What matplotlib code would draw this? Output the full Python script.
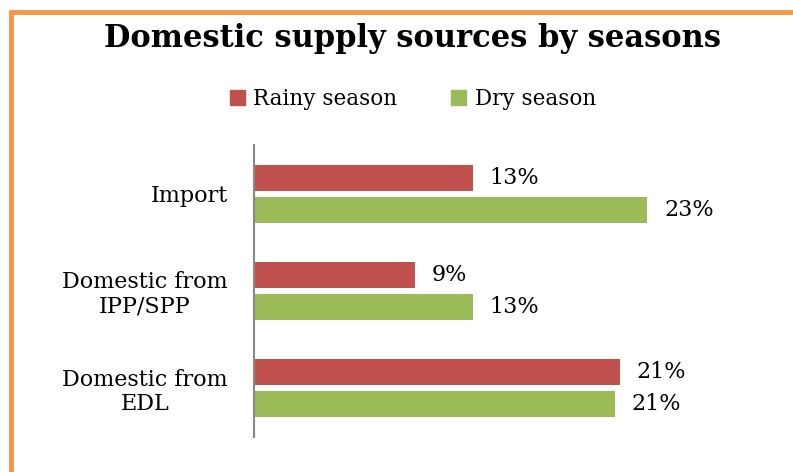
import numpy as np
import matplotlib
matplotlib.use('Agg')
import matplotlib.pyplot as plt
from matplotlib.lines import Line2D
from matplotlib.patches import Patch

###############################################################################

# Data (bottom to top)
categories = ['Domestic from\nEDL', 'Domestic from\nIPP/SPP', 'Import']
rainy = [21.4, 9.4, 12.8]
dry = [21.1, 12.8, 23.0]
series_names = ['Rainy season', 'Dry season']

c_rainy = '#C0504D'
c_dry = '#9BBB59'
c_border = '#F79646'

###############################################################################

plt.rcParams['font.family'] = ['DejaVu Serif']

fig = plt.figure(figsize=(7.93, 4.72), dpi=100)
ax = fig.add_axes([254/793, 1-437/472, 486/793, 292/472])

y = np.arange(len(categories))
h = 0.267
off = 0.164
b1 = ax.barh(y + off, rainy, height=h, color=c_rainy)
b2 = ax.barh(y - off, dry, height=h, color=c_dry)

for bars, vals in ((b1, rainy), (b2, dry)):
    for b, v in zip(bars, vals):
        ax.annotate('%.0f%%' % v, (b.get_width(), b.get_y() + b.get_height()/2),
                    xytext=(17, 0), textcoords='offset pixels',
                    ha='left', va='center', fontsize=16)

ax.set_xlim(0, 486/17.09)
ax.set_ylim(-0.5, 2.5)
ax.set_yticks(y)
ax.set_yticklabels(categories, fontsize=16, multialignment='center',
                   linespacing=1.1)
ax.tick_params(axis='y', length=0, pad=19)
ax.set_xticks([])
for s in ['top', 'right', 'bottom']:
    ax.spines[s].set_visible(False)
ax.spines['left'].set_color('#888888')
ax.spines['left'].set_linewidth(1.5)

fig.text(412/793, 1-38/472, 'Domestic supply sources by seasons',
         ha='center', va='center', fontsize=22, fontweight='bold')

handles = [Patch(color=c_rainy), Patch(color=c_dry)]
fig.legend(handles, series_names, loc='center', bbox_to_anchor=(413/793, 1-99/472),
           ncol=2, frameon=False, fontsize=15.5, handlelength=0.7, handleheight=0.7,
           handletextpad=0.4, columnspacing=2.5)

# orange frame on top and left
fig.add_artist(Line2D([11/793, 11/793], [0, 1-11/472], color=c_border, lw=3.5,
                      transform=fig.transFigure, solid_capstyle='butt'))
fig.add_artist(Line2D([9/793, 1], [1-11.5/472, 1-11.5/472], color=c_border, lw=3.5,
                      transform=fig.transFigure, solid_capstyle='butt'))

fig.savefig('out.png', dpi=100)
